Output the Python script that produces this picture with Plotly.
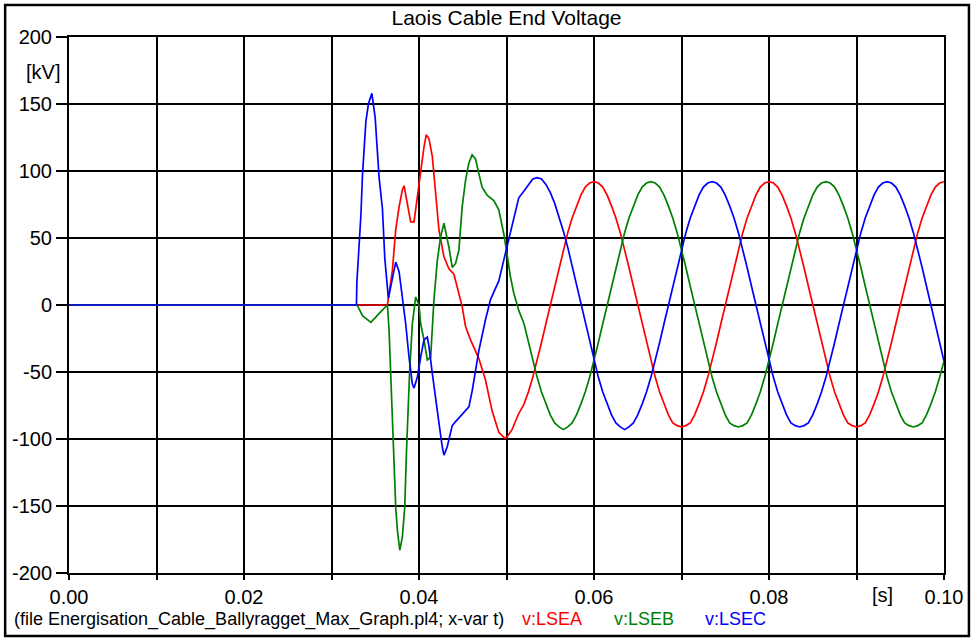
import plotly.graph_objects as go

# ---------------- data ----------------
# transient part of each phase (time [s], voltage [kV])
t_red_tr = [0.0, 0.03639, 0.03696, 0.03734, 0.03772, 0.03810, 0.03829, 0.03867, 0.03905, 0.03943,
            0.03981, 0.04019, 0.04057, 0.04083, 0.04114, 0.04152, 0.04190, 0.04228, 0.04285, 0.04342,
            0.04399, 0.04456, 0.04493, 0.04532, 0.04589, 0.04684, 0.04760, 0.04835, 0.04912, 0.04980,
            0.05000, 0.05063, 0.05140]
v_red_tr = [0, 0, 26, 56, 73, 86, 89, 76, 62, 62,
            81, 103, 118, 127, 124, 111, 86, 56, 36, 27,
            23, 9, -1, -16, -26, -40, -56, -79, -95, -99.5,
            -99, -93, -81]

t_green_tr = [0.0, 0.03293, 0.03354, 0.03450, 0.03564, 0.03639, 0.03658, 0.03677, 0.03696, 0.03715,
              0.03734, 0.03753, 0.03780, 0.03810, 0.03837, 0.03855, 0.03875, 0.03892, 0.03924, 0.03962,
              0.04000, 0.04019, 0.04057, 0.04095, 0.04133, 0.04152, 0.04171, 0.04209, 0.04247, 0.04285,
              0.04342, 0.04380, 0.04418, 0.04456, 0.04475, 0.04493, 0.04532, 0.04570, 0.04607, 0.04646,
              0.04684, 0.04721, 0.04778, 0.04855, 0.04912, 0.04969, 0.05006, 0.05045, 0.05083, 0.05140]
v_green_tr = [0, 0, -8, -13, -5, 0, -19, -51, -88, -126,
              -151, -168, -183, -173, -151, -113, -79, -51, -14, 6,
              0, -14, -26, -41, -39, -19, 4, 33, 51, 61,
              43, 28, 31, 41, 61, 73, 93, 106, 112, 109,
              98, 88, 82, 78, 71, 53, 38, 21, 9, -4]

t_blue_tr = [0.0, 0.03285, 0.03290, 0.03316, 0.03336, 0.03354, 0.03373, 0.03393, 0.03422, 0.03461,
             0.03499, 0.03521, 0.03544, 0.03582, 0.03609, 0.03650, 0.03715, 0.03734, 0.03772, 0.03791,
             0.03829, 0.03848, 0.03886, 0.03924, 0.03943, 0.03981, 0.04019, 0.04057, 0.04095, 0.04114,
             0.04152, 0.04190, 0.04228, 0.04266, 0.04285, 0.04322, 0.04380, 0.04418, 0.04490, 0.04570,
             0.04608, 0.04646, 0.04684, 0.04760, 0.04817, 0.04912, 0.04988, 0.05063, 0.05140]
v_blue_tr = [0, 0, 17, 45, 67, 97, 119, 137, 150, 158,
             140, 114, 95, 72, 35, 5, 25, 32, 25, 15,
             -5, -14, -39, -59, -62, -54, -39, -26, -24, -31,
             -51, -71, -88, -106, -112, -106, -90, -87, -82, -76,
             -64, -49, -34, -11, 4, 18, 38, 58, 80]

# steady-state part, sampled every 0.5 ms from 0.052 s to 0.100 s
t_steady = [round(0.052 + 0.0005 * i, 4) for i in range(97)]

v_red_st = [-74, -65, -54, -42, -28, -14, 0, 14, 28, 42, 54, 65, 74, 82, 88, 91,
            92, 91, 88, 82, 74, 65, 54, 42, 28, 14, 0, -14, -28, -42, -54, -65, -74, -82, -88, -90,
            -91, -90, -88, -82, -74, -65, -54, -42, -28, -14, 0, 14, 28, 42, 54, 65, 74, 82, 88, 91,
            92, 91, 88, 82, 74, 65, 54, 42, 28, 14, 0, -14, -28, -42, -54, -65, -74, -82, -88, -90,
            -91, -90, -88, -82, -74, -65, -54, -42, -28, -14, 0, 14, 28, 42, 54, 65, 74, 82, 88, 91,
            92]

v_green_st = [-14, -28, -42, -54, -65, -74, -82, -88, -91, -93, -91, -88, -82, -74, -65, -54, -42, -28,
              -14, 0, 14, 28, 42, 54, 65, 74, 82, 88, 91,
              92, 91, 88, 82, 74, 65, 54, 42, 28, 14, 0, -14, -28, -42, -54, -65, -74, -82, -88, -90,
              -91, -90, -88, -82, -74, -65, -54, -42, -28, -14, 0, 14, 28, 42, 54, 65, 74, 82, 88, 91,
              92, 91, 88, 82, 74, 65, 54, 42, 28, 14, 0, -14, -28, -42, -54, -65, -74, -82, -88, -90,
              -91, -90, -88, -82, -74, -65, -54, -42]

v_blue_st = [85, 90, 94, 95, 94, 90, 84, 76, 66, 55, 43, 29, 15, 0, -14, -28, -42, -54, -65, -74,
             -82, -88, -91, -93, -91, -88, -82, -74, -65, -54, -42, -28, -14, 0, 14, 28, 42, 54, 65, 74,
             82, 88, 91,
             92, 91, 88, 82, 74, 65, 54, 42, 28, 14, 0, -14, -28, -42, -54, -65, -74, -82, -88, -90,
             -91, -90, -88, -82, -74, -65, -54, -42, -28, -14, 0, 14, 28, 42, 54, 65, 74, 82, 88, 91,
             92, 91, 88, 82, 74, 65, 54, 42, 28, 14, 0, -14, -28, -42]

series_names = ["v:LSEA", "v:LSEB", "v:LSEC"]
series_colors = ["#ff0000", "#008000", "#0000ff"]

x_tickvals = [0.00, 0.01, 0.02, 0.03, 0.04, 0.05, 0.06, 0.07, 0.08, 0.09, 0.10]
x_ticktext = ["0.00", "", "0.02", "", "0.04", "", "0.06", "", "0.08", "", "0.10"]
y_tickvals = [-200, -150, -100, -50, 0, 50, 100, 150, 200]
y_ticktext = ["-200", "-150", "-100", "-50", "0", "50", "100", "150", "200"]

title_text = "Laois Cable End Voltage"
file_text = "(file Energisation_Cable_Ballyragget_Max_Graph.pl4; x-var t)"

# ---------------- figure ----------------
FONT = "Arial, Liberation Sans, sans-serif"
W, H = 975, 639
ML, MR, MT, MB = 69, 29, 37, 66
PW, PH = W - ML - MR, H - MT - MB

series = [
    (t_red_tr + t_steady, v_red_tr + v_red_st),
    (t_green_tr + t_steady, v_green_tr + v_green_st),
    (t_blue_tr + t_steady, v_blue_tr + v_blue_st),
]

fig = go.Figure()
for (tx, vy), name, col in zip(series, series_names, series_colors):
    fig.add_trace(go.Scatter(x=tx, y=vy, mode="lines", name=name,
                             line=dict(color=col, width=1.7), showlegend=False))

axis_common = dict(showgrid=True, gridcolor="#000000", gridwidth=1.6,
                   showline=True, linecolor="#000000", linewidth=2, mirror=True,
                   zeroline=False, ticks="outside", tickcolor="#000000", tickwidth=1.5,
                   tickfont=dict(family=FONT, size=20, color="#000000"))

fig.update_layout(
    width=W, height=H,
    margin=dict(l=ML, r=MR, t=MT, b=MB, pad=0),
    paper_bgcolor="white", plot_bgcolor="white",
    title=dict(text=title_text, x=0.5, xref="paper", xanchor="center",
               y=1 - 18 / H, yref="container", yanchor="middle",
               font=dict(family=FONT, size=21, color="#000000")),
    xaxis=dict(range=[0, 0.1], tickmode="array", tickvals=x_tickvals, ticktext=x_ticktext,
               ticklen=5, **axis_common),
    yaxis=dict(range=[-200, 200], tickmode="array", tickvals=y_tickvals, ticktext=y_ticktext,
               ticklen=11, **axis_common),
    showlegend=False,
)

ann_font = dict(family=FONT, size=20, color="#000000")
annotations = [
    dict(text="[kV]", xref="paper", x=0, xshift=-7, xanchor="right",
         yref="y", y=174, yanchor="middle", showarrow=False, font=ann_font),
    dict(text="[s]", xref="x", x=0.093, xanchor="center",
         yref="paper", y=0, yshift=-22, yanchor="middle", showarrow=False, font=ann_font),
    dict(text=file_text, xref="paper", x=0, xshift=12 - ML, xanchor="left",
         yref="paper", y=0, yshift=-46, yanchor="middle", showarrow=False,
         font=dict(family=FONT, size=18, color="#000000")),
]
leg_x = [520, 612, 703]
for name, col, px in zip(series_names, series_colors, leg_x):
    annotations.append(dict(text=name, xref="paper", x=0, xshift=px - ML, xanchor="left",
                            yref="paper", y=0, yshift=-46, yanchor="middle", showarrow=False,
                            font=dict(family=FONT, size=18, color=col)))
fig.update_layout(annotations=annotations)

# outer frame around the whole picture
fig.add_shape(type="rect", xref="paper", yref="paper",
              x0=(5 - ML) / PW, x1=(971 - ML) / PW,
              y0=(PH - (636 - MT)) / PH, y1=(PH - (5 - MT)) / PH,
              line=dict(color="#000000", width=2.5), fillcolor="rgba(0,0,0,0)", layer="below")

fig.write_html("out.html")
